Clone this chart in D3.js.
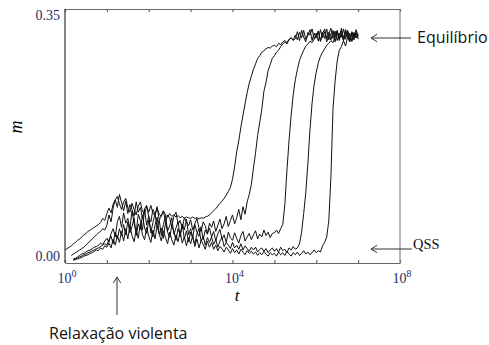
<!DOCTYPE html>
<html>
<head>
<meta charset="utf-8">
<script src="https://cdn.jsdelivr.net/npm/d3@7"></script>
<style>
  html, body { margin: 0; padding: 0; background: #fff; }
  svg { display: block; }
</style>
</head>
<body>
<div id="chart"></div>
<script>
// m(t) samples, one value every 0.05 in log10(t), starting at t = 10^0
const logStart = 0;
const logStep = 0.05;

const runA = [
  0.009,0.011,0.013,0.015,0.018,0.020,0.023,0.025,0.028,0.031,
  0.033,0.036,0.038,0.040,0.042,0.044,0.046,0.049,0.055,0.052,
  0.062,0.070,0.063,0.076,0.082,0.087,0.076,0.068,0.079,0.084,
  0.071,0.064,0.077,0.068,0.060,0.073,0.079,0.065,0.062,0.072,
  0.064,0.074,0.062,0.059,0.070,0.061,0.058,0.066,0.060,0.057,
  0.062,0.058,0.060,0.057,0.059,0.056,0.058,0.055,0.057,0.056,
  0.055,0.057,0.055,0.056,0.054,0.056,0.055,0.057,0.058,0.060,
  0.063,0.066,0.069,0.073,0.077,0.080,0.084,0.089,0.094,0.100,
  0.112,0.130,0.152,0.168,0.188,0.205,0.222,0.238,0.252,0.262,
  0.272,0.280,0.288,0.292,0.297,0.299,0.302,0.304,0.303,0.306,
  0.307,0.305,0.310,0.308,0.312,0.314,0.311,0.316,0.318,0.315,
  0.322,0.315,0.326,0.318,0.329,0.316,0.321,0.330,0.314,0.325,
  0.318,0.328,0.313,0.324,0.331,0.317,0.326,0.315,0.327,0.320,
  0.329,0.316,0.323,0.314,0.327,0.319,0.325,0.313,0.324,0.318,0.322
];
const runB = [
  null,null,null,0.001,0.003,0.005,0.007,0.009,0.011,0.013,
  0.016,0.019,0.022,0.025,0.028,0.031,0.034,0.036,0.040,0.038,
  0.045,0.060,0.050,0.070,0.082,0.071,0.090,0.078,0.066,0.080,
  0.062,0.075,0.068,0.058,0.079,0.064,0.071,0.055,0.069,0.074,
  0.057,0.050,0.068,0.061,0.072,0.053,0.059,0.066,0.049,0.060,
  0.055,0.043,0.058,0.064,0.047,0.052,0.040,0.056,0.050,0.044,
  0.053,0.038,0.047,0.055,0.041,0.036,0.050,0.044,0.033,0.048,
  0.042,0.051,0.036,0.045,0.054,0.040,0.047,0.058,0.043,0.052,
  0.060,0.047,0.056,0.068,0.053,0.072,0.061,0.079,0.090,0.104,
  0.128,0.150,0.176,0.195,0.214,0.240,0.253,0.270,0.279,0.288,
  0.292,0.297,0.300,0.305,0.309,0.312,0.309,0.315,0.318,0.314,
  0.317,0.327,0.314,0.329,0.319,0.312,0.326,0.322,0.331,0.316,
  0.325,0.313,0.330,0.318,0.327,0.312,0.323,0.332,0.317,0.328,
  0.314,0.325,0.319,0.331,0.316,0.327,0.320,0.313,0.326,0.318,0.323
];
const runC = [
  null,null,null,null,-0.004,-0.003,-0.001,0.001,0.003,0.004,
  0.006,0.008,0.009,0.011,0.013,0.014,0.016,0.019,0.017,0.022,
  0.026,0.020,0.033,0.040,0.028,0.050,0.058,0.042,0.063,0.048,
  0.055,0.040,0.066,0.047,0.035,0.061,0.052,0.038,0.068,0.045,
  0.058,0.034,0.049,0.062,0.041,0.053,0.030,0.046,0.059,0.037,
  0.044,0.056,0.032,0.041,0.050,0.028,0.047,0.038,0.054,0.031,
  0.040,0.027,0.046,0.035,0.029,0.043,0.024,0.038,0.032,0.041,
  0.028,0.036,0.022,0.033,0.039,0.025,0.031,0.020,0.035,0.027,
  0.023,0.034,0.026,0.019,0.030,0.036,0.022,0.028,0.033,0.024,
  0.031,0.037,0.025,0.032,0.028,0.038,0.030,0.035,0.027,0.033,
  0.034,0.038,0.033,0.040,0.046,0.075,0.125,0.168,0.205,0.235,
  0.257,0.272,0.285,0.293,0.300,0.306,0.309,0.313,0.311,0.316,
  0.320,0.328,0.313,0.326,0.317,0.331,0.315,0.324,0.329,0.312,
  0.327,0.318,0.332,0.314,0.323,0.329,0.316,0.326,0.319,0.330,0.321
];
const runD = [
  null,null,null,null,-0.005,-0.004,-0.003,-0.001,0.000,0.002,
  0.003,0.005,0.006,0.008,0.009,0.011,0.012,0.014,0.016,0.018,
  0.016,0.024,0.029,0.018,0.035,0.025,0.040,0.030,0.046,0.031,
  0.050,0.034,0.043,0.056,0.030,0.047,0.039,0.060,0.041,0.033,
  0.052,0.038,0.028,0.045,0.057,0.032,0.041,0.026,0.049,0.035,
  0.027,0.044,0.036,0.023,0.040,0.031,0.046,0.025,0.037,0.021,
  0.035,0.026,0.018,0.032,0.040,0.022,0.029,0.016,0.027,0.020,
  0.028,0.017,0.024,0.013,0.022,0.027,0.014,0.020,0.016,0.011,
  0.020,0.012,0.016,0.010,0.018,0.009,0.015,0.011,0.007,0.013,
  0.009,0.013,0.006,0.010,0.012,0.007,0.011,0.005,0.009,0.012,
  0.007,0.011,0.006,0.013,0.008,0.010,0.005,0.012,0.009,0.014,
  0.010,0.012,0.018,0.035,0.062,0.092,0.135,0.184,0.223,0.250,
  0.268,0.282,0.291,0.297,0.302,0.307,0.310,0.314,0.311,0.320,
  0.326,0.314,0.328,0.318,0.330,0.322,0.313,0.327,0.319,0.325,0.316
];
const runE = [
  null,null,null,null,-0.006,-0.005,-0.004,-0.003,-0.002,0.000,
  0.001,0.002,0.004,0.005,0.007,0.009,0.008,0.012,0.010,0.015,
  0.013,0.019,0.012,0.025,0.016,0.030,0.020,0.036,0.022,0.040,
  0.025,0.044,0.030,0.021,0.039,0.026,0.048,0.031,0.024,0.042,
  0.029,0.020,0.038,0.025,0.044,0.032,0.022,0.037,0.027,0.018,
  0.035,0.024,0.016,0.031,0.021,0.036,0.019,0.028,0.015,0.027,
  0.018,0.030,0.014,0.025,0.012,0.023,0.017,0.010,0.022,0.013,
  0.020,0.010,0.016,0.008,0.014,0.011,0.006,0.013,0.009,0.004,
  0.011,0.005,0.009,0.003,0.010,0.006,0.002,0.008,0.004,0.007,
  0.003,0.006,0.001,0.005,0.002,0.007,0.003,0.000,0.005,0.002,
  0.004,0.000,0.006,0.002,0.005,0.001,0.007,0.003,0.000,0.005,
  0.002,0.006,0.001,0.004,0.008,0.003,0.006,0.002,0.005,0.009,
  0.005,0.008,0.006,0.015,0.020,0.028,0.052,0.115,0.215,0.255,
  0.284,0.300,0.305,0.314,0.306,0.319,0.312,0.324,0.315,0.326,0.318
];
const runs = [runA, runB, runC, runD, runE];

const xTicks = [1e0, 1e1, 1e2, 1e3, 1e4, 1e5, 1e6, 1e7, 1e8];
const xLabels = [{v: 1e0, exp: "0"}, {v: 1e4, exp: "4"}, {v: 1e8, exp: "8"}];
const yLabels = [0.00, 0.35];

const width = 489, height = 345;
const plotLeft = 65, plotRight = 400, plotTop = 9, plotBottom = 263;

const svg = d3.select("#chart").append("svg")
  .attr("width", width)
  .attr("height", height);

const x = d3.scaleLog().domain([1, 1e8]).range([plotLeft, plotRight]);
const y = d3.scaleLinear().domain([-0.01, 0.36]).range([plotBottom, plotTop]);

const line = d3.line()
  .defined(d => d[1] !== null)
  .x(d => x(Math.pow(10, d[0])))
  .y(d => y(d[1]));

svg.append("g")
  .selectAll("path")
  .data(runs)
  .enter()
  .append("path")
  .attr("d", r => line(r.map((m, i) => [logStart + i * logStep, m])))
  .attr("fill", "none")
  .attr("stroke", "#111")
  .attr("stroke-width", 1)
  .attr("stroke-linejoin", "round");

// frame + inward ticks
const bottomAxis = svg.append("g")
  .attr("transform", "translate(0," + plotBottom + ")")
  .call(d3.axisBottom(x).tickValues(xTicks).tickSizeInner(-3).tickSizeOuter(0).tickFormat(""));
const topAxis = svg.append("g")
  .attr("transform", "translate(0," + plotTop + ")")
  .call(d3.axisTop(x).tickValues(xTicks).tickSizeInner(-3).tickSizeOuter(0).tickFormat(""));
[bottomAxis, topAxis].forEach(g => {
  g.selectAll("path, line").attr("stroke", "#666").attr("stroke-width", 1.2);
});
svg.append("line")
  .attr("x1", plotLeft).attr("x2", plotLeft).attr("y1", plotTop).attr("y2", plotBottom)
  .attr("stroke", "#333").attr("stroke-width", 1.2);
svg.append("line")
  .attr("x1", plotRight).attr("x2", plotRight).attr("y1", plotTop).attr("y2", plotBottom)
  .attr("stroke", "#888").attr("stroke-width", 1.2);

const serif = "'Liberation Serif', 'DejaVu Serif', serif";
const labelColor = "#1f2d66";

svg.selectAll("text.ylab")
  .data(yLabels)
  .enter()
  .append("text")
  .attr("x", 60)
  .attr("y", d => y(d) + 4.5)
  .attr("text-anchor", "end")
  .style("font-family", serif)
  .style("font-size", "14px")
  .attr("fill", labelColor)
  .text(d => d.toFixed(2));

const xl = svg.selectAll("text.xlab")
  .data(xLabels)
  .enter()
  .append("text")
  .attr("x", d => x(d.v) + 2)
  .attr("y", 283)
  .attr("text-anchor", "middle")
  .style("font-family", serif)
  .style("font-size", "14px")
  .attr("fill", labelColor);
xl.append("tspan").text("10");
xl.append("tspan").attr("dy", -6).style("font-size", "10px").text(d => d.exp);

svg.append("text")
  .attr("x", 237)
  .attr("y", 301)
  .attr("text-anchor", "middle")
  .style("font-family", serif)
  .style("font-style", "italic")
  .style("font-size", "17px")
  .text("t");

svg.append("text")
  .attr("transform", "translate(22,127) rotate(-90)")
  .attr("text-anchor", "middle")
  .style("font-family", serif)
  .style("font-style", "italic")
  .style("font-size", "18px")
  .text("m");

// annotations
function arrow(x1, y1, x2, y2) {
  const a = Math.atan2(y2 - y1, x2 - x1);
  const len = 7, spread = 0.55;
  svg.append("line")
    .attr("x1", x1).attr("y1", y1).attr("x2", x2).attr("y2", y2)
    .attr("stroke", "#333").attr("stroke-width", 1);
  svg.append("path")
    .attr("d", "M" + (x2 - len * Math.cos(a - spread)) + "," + (y2 - len * Math.sin(a - spread)) +
      "L" + x2 + "," + y2 +
      "L" + (x2 - len * Math.cos(a + spread)) + "," + (y2 - len * Math.sin(a + spread)))
    .attr("fill", "none")
    .attr("stroke", "#333")
    .attr("stroke-width", 1);
}
arrow(411, 38, 371, 38);
arrow(412, 249, 371, 249);
arrow(117, 315, 117, 277);

const sans = "'Open Sans', 'Noto Sans', sans-serif";
svg.append("text")
  .attr("x", 417).attr("y", 43)
  .style("font-family", sans).style("font-size", "16px")
  .attr("fill", "#111")
  .text("Equilíbrio");
svg.append("text")
  .attr("x", 413).attr("y", 249)
  .style("font-family", serif).style("font-size", "14.5px")
  .attr("fill", "#111")
  .text("QSS");
svg.append("text")
  .attr("x", 49).attr("y", 339)
  .style("font-family", sans).style("font-size", "16px")
  .attr("fill", "#111")
  .text("Relaxação violenta");
</script>
</body>
</html>
